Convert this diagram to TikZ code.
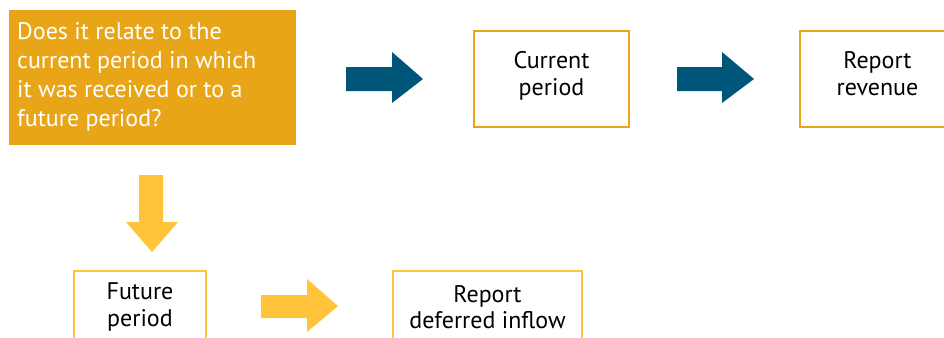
\documentclass[tikz,border=0pt]{standalone}
\usepackage{fontspec}
\setmainfont{PT Sans}
\definecolor{qorange}{RGB}{232,165,24}
\definecolor{qblue}{RGB}{0,86,120}
\definecolor{qyellow}{RGB}{255,196,58}
\begin{document}
\begin{tikzpicture}[x=1pt,y=-1pt,
  qbox/.style={fill=qorange,draw=none,minimum width=287pt,minimum height=135pt,inner sep=0pt},
  obox/.style={draw=qorange,line width=2pt,fill=white,minimum width=155pt,minimum height=96pt,align=center,font=\fontsize{24}{27.5}\selectfont,inner sep=0pt,text depth=11pt},
  ybox/.style={draw=qyellow,line width=2pt,fill=white,minimum height=72pt,align=center,font=\fontsize{24}{26.5}\selectfont,inner sep=0pt},
  barrow/.style={fill=qblue,draw=none},
  yarrow/.style={fill=qyellow,draw=none}]
\clip (0,0) rectangle (944,337);
\useasboundingbox (0,0) rectangle (944,337);
\node[qbox] (q) at (152.5,77.5) {};
\node[anchor=north west,inner sep=0pt,text=white,align=left,font=\fontsize{24}{29}\selectfont] (qt) at (17,22)
  {Does it relate to the\\current period in which\\it was received or to a\\future period?};
\node[obox] (cur) at (551.5,79) {Current\\period};
\node[obox] (rev) at (877.5,79) {Report\\revenue};
\node[ybox,minimum width=132pt] (fut) at (140,307) {Future\\period};
\node[ybox,minimum width=189pt] (def) at (487.5,307) {Report\\deferred inflow};
% block arrows
\fill[barrow] (346,67) -- (392,67) -- (392,52) -- (423,79) -- (392,103) -- (392,91) -- (346,91) -- cycle;
\fill[barrow] (677,67) -- (722,67) -- (722,52) -- (754,79) -- (722,103) -- (722,91) -- (677,91) -- cycle;
\fill[yarrow] (139,175) -- (163,175) -- (163,222) -- (178,222) -- (152,252) -- (126,222) -- (139,222) -- cycle;
\fill[yarrow] (261,295) -- (307,295) -- (307,279) -- (338,306) -- (307,332) -- (307,318) -- (261,318) -- cycle;
\end{tikzpicture}
\end{document}
